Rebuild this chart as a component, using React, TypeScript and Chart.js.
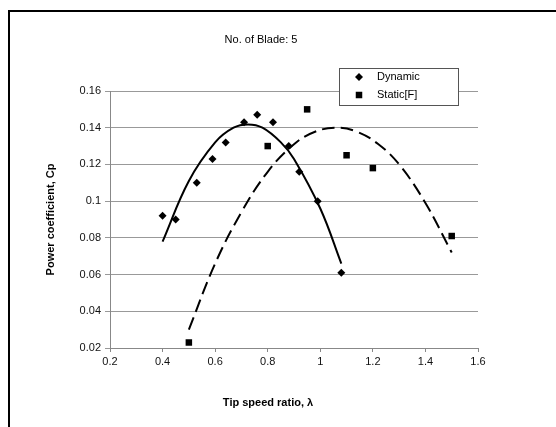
import React, { useEffect, useRef } from 'react';
import { Chart, registerables } from 'chart.js';

Chart.register(...registerables);

const chartTitle = 'No. of Blade: 5';
const xAxisTitle = 'Tip speed ratio, λ';
const yAxisTitle = 'Power coefficient, Cp';
const seriesNames = ['Dynamic', 'Static[F]'];

const dynamicX = [0.40, 0.45, 0.53, 0.59, 0.64, 0.71, 0.76, 0.82, 0.88, 0.92, 0.99, 1.08];
const dynamicY = [0.092, 0.090, 0.110, 0.123, 0.132, 0.143, 0.147, 0.143, 0.130, 0.116, 0.100, 0.061];

const staticX = [0.50, 0.80, 0.95, 1.10, 1.20, 1.50];
const staticY = [0.023, 0.130, 0.150, 0.125, 0.118, 0.081];

const dynamicTrendX = [0.40, 0.50, 0.60, 0.67, 0.725, 0.78, 0.85, 0.90, 1.00, 1.08];
const dynamicTrendY = [0.078, 0.111, 0.132, 0.1400, 0.1418, 0.1400, 0.1320, 0.123, 0.096, 0.066];

const staticTrendX = [0.50, 0.60, 0.70, 0.80, 0.90, 0.98, 1.06, 1.14, 1.22, 1.30, 1.40, 1.50];
const staticTrendY = [0.030, 0.066, 0.094, 0.116, 0.131, 0.1378, 0.1400, 0.1378, 0.1311, 0.120, 0.099, 0.072];

const xTickLabels = ['0.2', '0.4', '0.6', '0.8', '1', '1.2', '1.4', '1.6'];
const yTickLabels = ['0.02', '0.04', '0.06', '0.08', '0.1', '0.12', '0.14', '0.16'];

const FONT = '"Liberation Sans", Arial, Helvetica, sans-serif';

const toPoints = (xs: number[], ys: number[]) => xs.map((x, i) => ({ x, y: ys[i] }));

const findLabel = (labels: string[], value: number) =>
  labels.find((l) => Math.abs(parseFloat(l) - value) < 1e-6) ?? '';

const overlayPlugin = {
  id: 'overlay',
  beforeDraw(chart: any) {
    const ctx = chart.ctx;
    ctx.save();
    ctx.fillStyle = '#ffffff';
    ctx.fillRect(0, 0, chart.width, chart.height);
    // outer frame (top and left edges)
    ctx.strokeStyle = '#000000';
    ctx.lineWidth = 2;
    ctx.beginPath();
    ctx.moveTo(9, chart.height);
    ctx.lineTo(9, 11);
    ctx.lineTo(chart.width, 11);
    ctx.stroke();
    ctx.restore();
  },
  afterDraw(chart: any) {
    const ctx = chart.ctx;
    ctx.save();
    // chart title
    ctx.fillStyle = '#000000';
    ctx.font = `11px ${FONT}`;
    ctx.textAlign = 'center';
    ctx.textBaseline = 'middle';
    ctx.fillText(chartTitle, 261, 40);
    // x-axis title
    ctx.font = `bold 11px ${FONT}`;
    ctx.fillText(xAxisTitle, 268, 403);

    // legend box
    const bx = 339.5, by = 68.5, bw = 119, bh = 37;
    ctx.fillStyle = '#ffffff';
    ctx.fillRect(bx, by, bw, bh);
    ctx.strokeStyle = '#555555';
    ctx.lineWidth = 1;
    ctx.strokeRect(bx, by, bw, bh);

    ctx.fillStyle = '#000000';
    // diamond
    const dx = 359, dy = 77, r = 4;
    ctx.beginPath();
    ctx.moveTo(dx, dy - r);
    ctx.lineTo(dx + r, dy);
    ctx.lineTo(dx, dy + r);
    ctx.lineTo(dx - r, dy);
    ctx.closePath();
    ctx.fill();
    // square
    ctx.fillRect(359 - 3.25, 95 - 3.25, 6.5, 6.5);

    ctx.font = `11px ${FONT}`;
    ctx.textAlign = 'left';
    ctx.textBaseline = 'middle';
    ctx.fillText(seriesNames[0], 377, 77);
    ctx.fillText(seriesNames[1], 377, 95);
    ctx.restore();
  },
};

export default function App() {
  const canvasRef = useRef<HTMLCanvasElement | null>(null);

  useEffect(() => {
    if (!canvasRef.current) return;
    const chart = new Chart(canvasRef.current, {
      type: 'scatter',
      data: {
        datasets: [
          {
            label: seriesNames[0],
            data: toPoints(dynamicX, dynamicY),
            pointStyle: 'rectRot',
            pointRadius: 4,
            pointBackgroundColor: '#000000',
            pointBorderWidth: 0,
            borderColor: '#000000',
            backgroundColor: '#000000',
          },
          {
            label: seriesNames[1],
            data: toPoints(staticX, staticY),
            pointStyle: 'rect',
            pointRadius: 4.6,
            pointBackgroundColor: '#000000',
            pointBorderWidth: 0,
            borderColor: '#000000',
            backgroundColor: '#000000',
          },
          {
            label: 'Dynamic trend',
            data: toPoints(dynamicTrendX, dynamicTrendY),
            showLine: true,
            pointRadius: 0,
            borderColor: '#000000',
            borderWidth: 2,
            tension: 0.4,
          },
          {
            label: 'Static trend',
            data: toPoints(staticTrendX, staticTrendY),
            showLine: true,
            pointRadius: 0,
            borderColor: '#000000',
            borderWidth: 2,
            borderDash: [13, 6],
            tension: 0.4,
          },
        ],
      },
      options: {
        responsive: false,
        animation: false,
        events: [],
        layout: { padding: { left: 40, right: 78, top: 91, bottom: 49 } },
        plugins: {
          legend: { display: false },
          title: { display: false },
          tooltip: { enabled: false },
        },
        scales: {
          x: {
            type: 'linear',
            position: 'bottom',
            min: 0.2,
            max: 1.6,
            afterFit: (scale: any) => {
              scale.height = 30;
            },
            ticks: {
              stepSize: 0.2,
              padding: 3,
              color: '#111111',
              font: { family: FONT, size: 11 },
              maxRotation: 0,
              autoSkip: false,
              callback: (value: any) => findLabel(xTickLabels, Number(value)),
            },
            grid: {
              drawOnChartArea: false,
              drawTicks: true,
              tickLength: 4,
              color: '#888888',
            },
            border: { color: '#888888', width: 1 },
          },
          y: {
            type: 'linear',
            min: 0.02,
            max: 0.16,
            afterFit: (scale: any) => {
              scale.width = 70;
            },
            ticks: {
              stepSize: 0.02,
              padding: 4,
              color: '#111111',
              font: { family: FONT, size: 11 },
              autoSkip: false,
              callback: (value: any) => findLabel(yTickLabels, Number(value)),
            },
            grid: {
              color: '#999999',
              tickLength: 5,
            },
            border: { color: '#888888', width: 1 },
            title: {
              display: true,
              text: yAxisTitle,
              color: '#000000',
              font: { family: FONT, size: 11, weight: 'bold' },
              padding: { top: 4, bottom: 0 },
            },
          },
        },
      },
      plugins: [overlayPlugin],
    } as any);
    return () => chart.destroy();
  }, []);

  return (
    <div style={{ position: 'fixed', left: 0, top: 0, width: 556, height: 427, background: '#fff' }}>
      <canvas ref={canvasRef} width={556} height={427} style={{ width: 556, height: 427, display: 'block' }} />
    </div>
  );
}
